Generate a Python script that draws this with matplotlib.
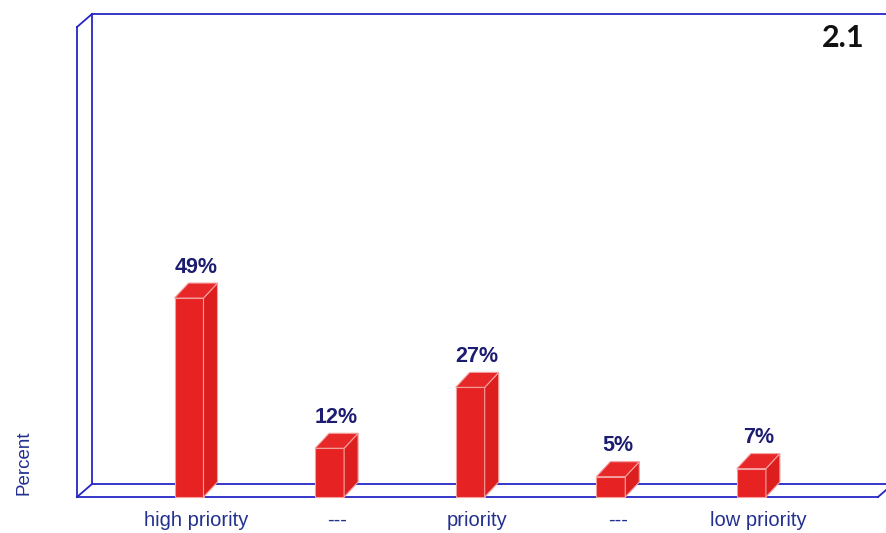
import numpy as np
import matplotlib.pyplot as plt
from matplotlib.patches import Polygon

categories = ['high priority', '---', 'priority', '---', 'low priority']
values = [49, 12, 27, 5, 7]
value_labels = ['49%', '12%', '27%', '5%', '7%']

red = '#e62222'
edge = '#f4a0a0'
frame_col = '#2626c4'
label_col = '#1c1c70'
cat_col = '#22308f'

fig = plt.figure(figsize=(8.86, 5.33), dpi=100)
ax = fig.add_axes([0, 0, 1, 1])
# pixel -> data: x step 140.6 px per category (first at px 189), y 4.06 px per percent (0 at px 497)
sx, sy = 140.6, 4.06
ax.set_xlim((0 - 189) / sx, (886 - 189) / sx)
ax.set_ylim((497 - 533) / sy, 497 / sy)
ax.axis('off')

# depth of frame and bars
fdx, fdy = 15 / sx, 13 / sy
bdx, bdy = 14 / sx, 15 / sy
w = 29 / sx

x0 = (77 - 189) / sx
x1 = (878 - 189) / sx
ytop = (497 - 27) / sy
lw = 1.3
# back wall and floor
ax.plot([x0 + fdx, x0 + fdx], [fdy, ytop + fdy], color=frame_col, lw=lw)
ax.plot([x0 + fdx, x1 + 2 * fdx], [ytop + fdy, ytop + fdy], color=frame_col, lw=lw)
ax.plot([x0 + fdx, x1 + fdx], [fdy, fdy], color=frame_col, lw=lw)
# front edges
ax.plot([x0, x0], [0, ytop], color=frame_col, lw=lw)
ax.plot([x0, x0 + fdx], [ytop, ytop + fdy], color=frame_col, lw=lw)
ax.plot([x0, x1], [0, 0], color=frame_col, lw=lw)
ax.plot([x0, x0 + fdx], [0, fdy], color=frame_col, lw=lw)
ax.plot([x1, x1 + fdx], [0, fdy], color=frame_col, lw=lw)

for i, v in enumerate(values):
    l, r = i - w / 2, i + w / 2
    front = Polygon([(l, 0), (r, 0), (r, v), (l, v)], closed=True,
                    facecolor=red, edgecolor=edge, lw=0.8, zorder=3)
    side = Polygon([(r, 0), (r + bdx, bdy), (r + bdx, v + bdy), (r, v)], closed=True,
                   facecolor='#dc1e1e', edgecolor=edge, lw=0.8, zorder=3)
    top = Polygon([(l, v), (r, v), (r + bdx, v + bdy), (l + bdx, v + bdy)], closed=True,
                  facecolor='#e82828', edgecolor=edge, lw=0.8, zorder=3)
    for p in (front, side, top):
        ax.add_patch(p)
    ax.annotate(value_labels[i], (i + bdx / 2, v + bdy), xytext=(0, 4),
                textcoords='offset points', ha='center', va='bottom',
                fontsize=15.5, fontweight='bold', color=label_col,
                family='Liberation Sans')
    ax.text(i + bdx / 2, (497 - 520) / sy, categories[i], ha='center', va='center',
            fontsize=14.5, color=cat_col, family='Liberation Sans')

ax.text((24 - 189) / sx, (497 - 463) / sy, 'Percent', rotation=90, ha='center',
        va='center', fontsize=13.5, color=cat_col, family='Liberation Sans')
ax.text((843 - 189) / sx, (497 - 38) / sy, '2.1', ha='center', va='center',
        fontsize=22, fontweight='bold', color='#111111', family='Lato')

fig.savefig('out.png', dpi=100)
